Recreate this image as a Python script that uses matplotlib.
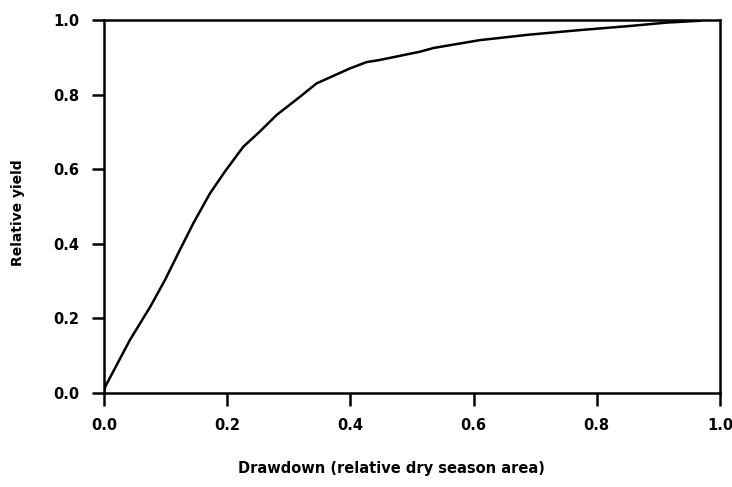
import matplotlib
matplotlib.use("Agg")
import matplotlib.pyplot as plt

drawdown = [0.0, 0.002, 0.042, 0.075, 0.099, 0.123, 0.145, 0.172, 0.196, 0.226,
            0.253, 0.280, 0.318, 0.345, 0.399, 0.426, 0.448, 0.513, 0.535, 0.610,
            0.692, 0.773, 0.854, 0.913, 0.968]
rel_yield = [0.0, 0.017, 0.142, 0.231, 0.303, 0.383, 0.455, 0.535, 0.593, 0.660,
             0.701, 0.745, 0.794, 0.830, 0.870, 0.887, 0.893, 0.915, 0.925, 0.946,
             0.961, 0.973, 0.984, 0.993, 0.998]
xticks = [0.0, 0.2, 0.4, 0.6, 0.8, 1.0]
yticks = [0.0, 0.2, 0.4, 0.6, 0.8, 1.0]

W, H = 732, 487
fig = plt.figure(figsize=(W / 100, H / 100), dpi=100)
ax = fig.add_axes([104 / W, 1 - 393 / H, (720 - 104) / W, (393 - 20) / H])
ax.plot(drawdown, rel_yield, color="black", lw=1.8)
ax.set_xlim(0, 1)
ax.set_ylim(0, 1)
ax.set_xticks(xticks)
ax.set_yticks(yticks)
ax.set_xticklabels([f"{v:.1f}" for v in xticks], fontweight="heavy", fontsize=10.5)
ax.set_yticklabels([f"{v:.1f}" for v in yticks], fontweight="heavy", fontsize=10.5)
ax.tick_params(direction="out", length=9, width=1.8, pad=9)
for s in ax.spines.values():
    s.set_linewidth(1.8)
fig.text(391 / W, 1 - 469 / H, "Drawdown (relative dry season area)",
         ha="center", va="center", fontweight="heavy", fontsize=10.5)
fig.text(18 / W, 1 - 213 / H, "Relative yield", rotation=90,
         ha="center", va="center", fontweight="heavy", fontsize=10)
fig.savefig("out.png", dpi=100)
